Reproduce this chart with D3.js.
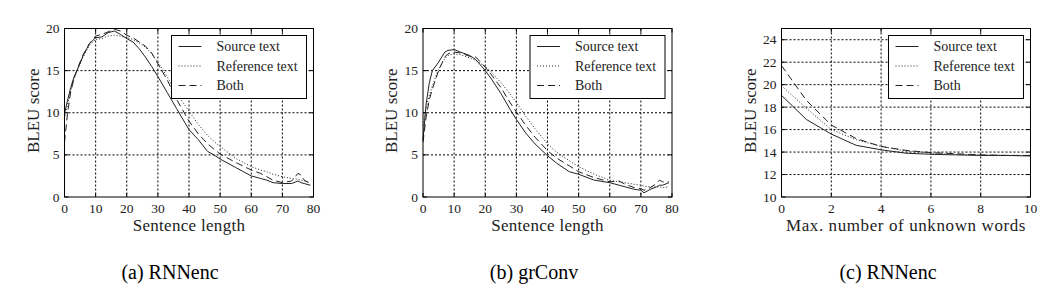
<!DOCTYPE html>
<head>
  <meta charset="utf-8">
  <script src="https://d3js.org/d3.v7.min.js"></script>
  <style>
    body { margin: 0; background: #fff; }
    svg { font-family: "Liberation Serif", serif; }
    .grid line { stroke: #000; stroke-width: 1; stroke-dasharray: 2,2; }
    .tick-label { font-size: 13.5px; fill: #222; }
    .axis-label { font-size: 17px; fill: #222; }
    .caption { font-size: 20px; fill: #000; }
    .legend text { font-size: 14px; fill: #222; }
    .series { fill: none; stroke: #222; stroke-width: 1; }
  </style>
</head>
<body>
<script>
// ---- data ----
var seriesNames = ["Source text", "Reference text", "Both"];

var lenA = [0,1,2,3,4,6,8,10,12,14,16,18,20,22,24,26,28,30,33,36,40,43,46,48,50,55,60,63,65,67,70,73,75,76,77,79];
var sourceA = [9.9,11.5,13,14.2,15,16.8,18.2,18.9,19.0,19.5,19.7,19.3,18.8,18.4,17.6,16.6,15.5,14.3,12.4,10.5,8.0,6.8,5.4,5.0,4.5,3.5,2.5,2.2,2.0,1.7,1.6,1.6,1.9,1.7,1.6,1.4];
var referenceA = [9.3,11,12.6,13.9,15,16.6,18,18.7,18.8,19.1,19.2,19.1,18.9,18.7,18.3,17.8,17.0,16.0,14.3,12.3,10.2,8.6,7.3,6.6,6.0,4.6,3.6,3.2,3.0,2.7,2.4,2.2,2.1,2.0,1.9,1.7];
var bothA = [6.5,10,12.5,14,15.1,16.9,18.2,19.1,19.3,19.6,19.9,19.7,19.2,18.9,18.4,17.9,17.1,15.8,13.9,11.6,9.0,7.5,6.3,5.7,5.1,4.1,3.2,2.8,2.4,2.0,1.7,1.9,2.8,2.6,2.0,1.6];

var lenB = [0,1,2,3,5,7,8,10,12,15,17,20,22,25,28,30,33,36,40,43,47,50,55,60,63,65,68,70,71,73,75,76,77,79];
var sourceB = [6.8,11,13.5,15.0,16.0,17.2,17.4,17.5,17.2,16.8,16.3,15.0,14,12.3,10.4,9.2,7.6,6.3,4.9,4.0,3.0,2.7,2.0,1.7,1.4,1.2,0.9,0.8,0.5,0.9,1.2,1.4,1.4,1.7];
var referenceB = [8.5,10.5,12,13.2,15.2,16.4,16.8,17.0,16.9,16.5,16.2,15.5,14.8,13.6,12.2,11.2,9.6,8.1,6.3,5.3,4.3,3.6,2.7,2.0,1.8,1.7,1.5,1.4,1.3,1.2,1.2,1.2,1.1,1.2];
var bothB = [6.5,9.5,11.5,12.8,15.0,16.6,17.0,17.2,17.1,16.7,16.6,15.4,14.5,13,11.2,10.1,8.5,7.1,5.5,4.6,3.7,3.0,2.3,1.8,1.9,1.5,1.1,1.0,0.8,1.1,1.6,2.0,1.8,1.8];

var unkC = [0,1,2,3,4,5,6,7,8,9,10];
var sourceC = [19.05,16.9,15.6,14.6,14.2,13.9,13.8,13.75,13.7,13.7,13.65];
var referenceC = [19.9,17.9,16.0,15.1,14.5,14.1,13.9,13.8,13.75,13.7,13.7];
var bothC = [21.7,18.6,16.4,15.2,14.5,14.15,13.95,13.85,13.75,13.7,13.7];

var ticksLen = [0,10,20,30,40,50,60,70,80];
var ticksBleu = [0,5,10,15,20];
var ticksUnk = [0,2,4,6,8,10];
var ticksBleuC = [10,12,14,16,18,20,22,24];

var panels = [
  { caption: "(a) RNNenc", xLabel: "Sentence length", x: lenA, ys: [sourceA, referenceA, bothA],
    xDomain: [0, 80], yDomain: [0, 20], xTicks: ticksLen, yTicks: ticksBleu },
  { caption: "(b) grConv", xLabel: "Sentence length", x: lenB, ys: [sourceB, referenceB, bothB],
    xDomain: [0, 80], yDomain: [0, 20], xTicks: ticksLen, yTicks: ticksBleu },
  { caption: "(c) RNNenc", xLabel: "Max. number of unknown words", x: unkC, ys: [sourceC, referenceC, bothC],
    xDomain: [0, 10], yDomain: [10, 25], xTicks: ticksUnk, yTicks: ticksBleuC }
];

// ---- layout ----
var plotLeft = [64.5, 423, 781.5];
var plotTop = 28.5, plotW = 249, plotH = 168.5;
var captionX = [170, 534, 888];
var dashes = [null, "1,2", "7,4"];

var svg = d3.select("body").append("svg")
  .attr("width", 1061)
  .attr("height", 299);

panels.forEach(function(p, i) {
  var g = svg.append("g")
    .attr("transform", "translate(" + plotLeft[i] + "," + plotTop + ")");

  var x = d3.scaleLinear().domain(p.xDomain).range([0, plotW]);
  var y = d3.scaleLinear().domain(p.yDomain).range([plotH, 0]);

  // grid
  var grid = g.append("g").attr("class", "grid");
  grid.selectAll(".gx")
    .data(p.xTicks.filter(function(t) { return t > p.xDomain[0] && t < p.xDomain[1]; }))
    .enter().append("line")
    .attr("x1", function(d) { return x(d); }).attr("x2", function(d) { return x(d); })
    .attr("y1", 0).attr("y2", plotH);
  grid.selectAll(".gy")
    .data(p.yTicks.filter(function(t) { return t > p.yDomain[0] && t < p.yDomain[1]; }))
    .enter().append("line")
    .attr("y1", function(d) { return y(d); }).attr("y2", function(d) { return y(d); })
    .attr("x1", 0).attr("x2", plotW);

  // inward ticks on all sides
  var tk = g.append("g").attr("stroke", "#000").attr("stroke-width", 1);
  p.xTicks.forEach(function(t) {
    tk.append("line").attr("x1", x(t)).attr("x2", x(t)).attr("y1", plotH).attr("y2", plotH - 4);
    tk.append("line").attr("x1", x(t)).attr("x2", x(t)).attr("y1", 0).attr("y2", 4);
  });
  p.yTicks.forEach(function(t) {
    tk.append("line").attr("y1", y(t)).attr("y2", y(t)).attr("x1", 0).attr("x2", 4);
    tk.append("line").attr("y1", y(t)).attr("y2", y(t)).attr("x1", plotW).attr("x2", plotW - 4);
  });

  // tick labels
  g.selectAll(".xl").data(p.xTicks).enter().append("text")
    .attr("class", "tick-label")
    .attr("x", function(d) { return x(d); })
    .attr("y", plotH + 16)
    .attr("text-anchor", "middle")
    .text(function(d) { return d; });
  g.selectAll(".yl").data(p.yTicks).enter().append("text")
    .attr("class", "tick-label")
    .attr("x", -5)
    .attr("y", function(d) { return y(d) + 4.5; })
    .attr("text-anchor", "end")
    .text(function(d) { return d; });

  // axis labels
  g.append("text").attr("class", "axis-label")
    .attr("x", plotW / 2).attr("y", plotH + 34)
    .attr("text-anchor", "middle")
    .style("letter-spacing", i === 2 ? "0.6px" : "0.3px")
    .text(p.xLabel);
  g.append("text").attr("class", "axis-label")
    .attr("transform", "translate(-26," + (plotH / 2 - 2) + ") rotate(-90)")
    .attr("text-anchor", "middle")
    .text("BLEU score");

  // series
  var line = d3.line()
    .x(function(d) { return x(d[0]); })
    .y(function(d) { return y(d[1]); });
  p.ys.forEach(function(vals, k) {
    g.append("path")
      .attr("class", "series")
      .attr("stroke-dasharray", dashes[k])
      .attr("d", line(p.x.map(function(v, j) { return [v, vals[j]]; })));
  });

  // frame
  g.append("rect")
    .attr("width", plotW).attr("height", plotH)
    .attr("fill", "none").attr("stroke", "#000").attr("stroke-width", 1);

  // legend
  var lg = g.append("g").attr("class", "legend")
    .attr("transform", "translate(" + (plotW - 142) + ",7)");
  lg.append("rect").attr("width", 135).attr("height", 63)
    .attr("fill", "#fff").attr("stroke", "#000").attr("stroke-width", 1);
  seriesNames.forEach(function(name, k) {
    var ly = 11 + k * 19.5;
    lg.append("line").attr("x1", 7).attr("x2", 30).attr("y1", ly).attr("y2", ly)
      .attr("stroke", "#222").attr("stroke-width", 1)
      .attr("stroke-dasharray", dashes[k]);
    lg.append("text").attr("x", 45).attr("y", ly + 4.5).text(name);
  });

  // caption
  svg.append("text").attr("class", "caption")
    .attr("x", captionX[i]).attr("y", 279)
    .attr("text-anchor", "middle")
    .text(p.caption);
});
</script>
</body>
